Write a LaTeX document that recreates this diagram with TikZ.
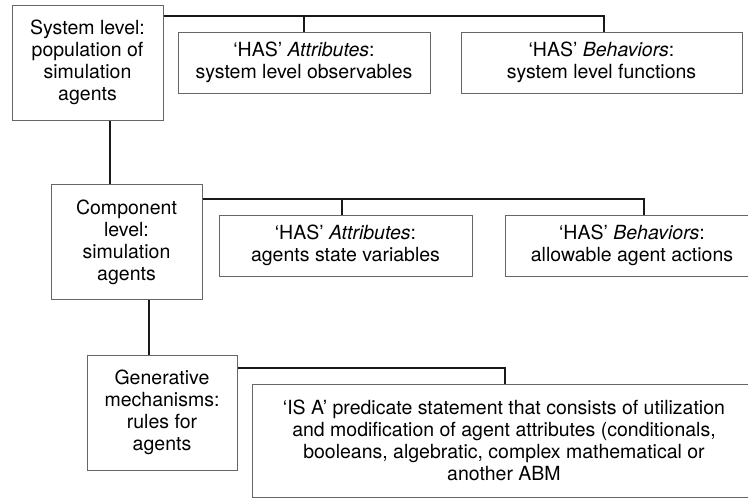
\documentclass[tikz,border=0pt]{standalone}
\usepackage{fontspec}
\setmainfont{TeX Gyre Heros}
\begin{document}
\begin{tikzpicture}[x=1pt,y=-1pt,
  every node/.style={font=\fontsize{19.5}{22}\selectfont},
  box/.style={draw=black!60,line width=1pt,align=center,inner sep=0pt},
  lvl/.style={box,minimum width=151pt,minimum height=115pt},
  has/.style={box,minimum height=61pt},
  link/.style={draw=black!90,line width=2.6pt}]
  \useasboundingbox (0,0) rectangle (748,499);
  \node[lvl] (sys) at (87.5,62.5) {System level:\\population of\\simulation\\agents};
  \node[has,minimum width=252pt] (sysatt) at (304,62.5) {‘HAS’ \textit{Attributes}:\\system level observables};
  \node[has,minimum width=281pt] (sysbeh) at (601.5,62.5) {‘HAS’ \textit{Behaviors}:\\system level functions};
  \node[lvl] (comp) at (126.5,242) {Component\\level:\\simulation\\agents};
  \node[has,minimum width=253pt] (compatt) at (345.5,245.5) {‘HAS’ \textit{Attributes}:\\agents state variables};
  \node[has,minimum width=254pt] (compbeh) at (632,245.5) {‘HAS’ \textit{Behaviors}:\\allowable agent actions};
  \node[lvl,minimum width=150pt] (gen) at (162,412.5) {Generative\\mechanisms:\\rules for\\agents};
  \node[box,minimum width=504pt,minimum height=113pt] (isa) at (504,440.5)
    {‘IS A’ predicate statement that consists of utilization\\and modification of agent attributes (conditionals,\\booleans, algebratic, complex mathematical or\\another ABM};
  \coordinate (bus1) at (604,16);
  \coordinate (bus2) at (644,199);
  \coordinate (bus3) at (505,368);
  \draw[link] (sys.east |- bus1) -- (bus1) -- (sysbeh.north -| bus1);
  \draw[link] (sysatt.north) -- (sysatt.north |- bus1);
  \draw[link] (comp.east |- bus2) -- (bus2) -- (compbeh.north -| bus2);
  \draw[link] ([xshift=-3.5]compatt.north) -- ([xshift=-3.5]compatt.north |- bus2);
  \draw[link] (gen.east |- bus3) -- (bus3) -- (isa.north -| bus3);
  \draw[link] ([xshift=22.5]sys.south) -- ([xshift=-16.5]comp.north);
  \draw[link] ([xshift=22.5]comp.south) -- ([xshift=-13]gen.north);
\end{tikzpicture}
\end{document}
